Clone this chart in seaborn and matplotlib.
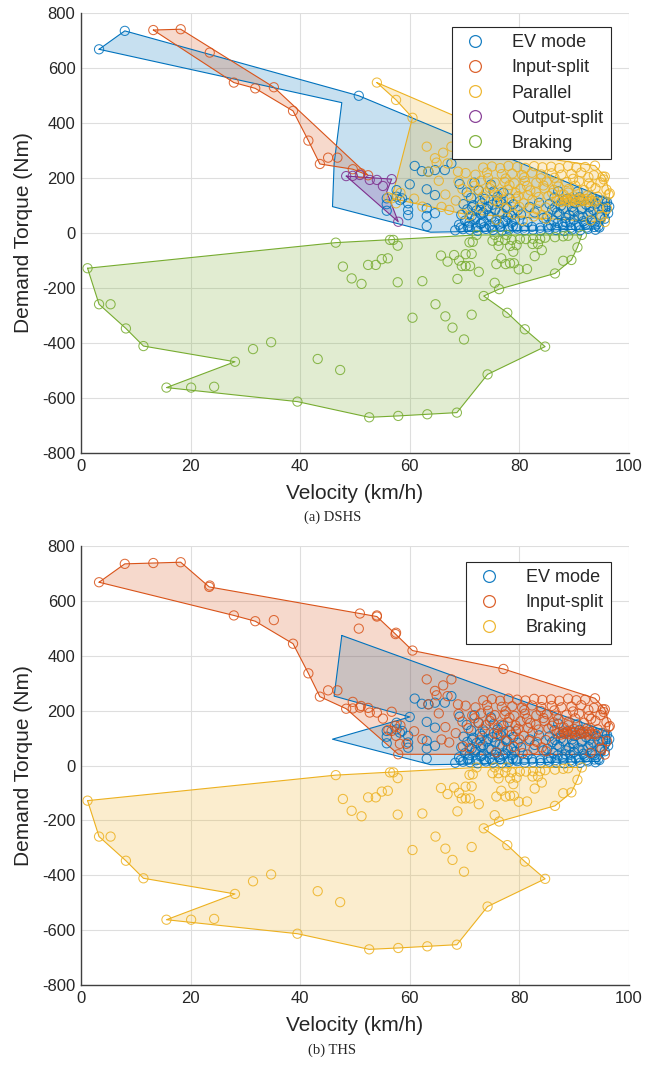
import numpy as np
import pandas as pd
import matplotlib
matplotlib.use("Agg")
import matplotlib.pyplot as plt
import seaborn as sns
from matplotlib.lines import Line2D

sns.set_theme(style="white")
plt.rcParams["font.family"] = ["Liberation Sans", "DejaVu Sans"]
plt.rcParams["axes.unicode_minus"] = False

# ---------------- colours ----------------
C_BLUE = "#0072BD"
C_ORANGE = "#D95319"
C_YELLOW = "#EDB120"
C_PURPLE = "#7E2F8E"
C_GREEN = "#77AC30"

# ---------------- EV mode points (shared by both systems) ----------------
ev_v = [60.9, 62.2, 63.4, 64.6, 66.4, 67.6, 60.0, 63.1, 57.6, 64.6, 58.2, 59.7, 55.8, 55.8, 55.8,
        58.6, 59.7, 59.7, 63.1, 64.6, 63.1, 63.1, 57.6,
        68.3, 69.7, 71.0, 72.4, 73.9, 75.2, 76.8, 78.1, 79.6, 81.0, 82.5, 83.9, 85.4, 86.7, 88.2, 89.6, 91.1, 92.5, 93.9,
        69.0, 70.8, 72.9, 74.6, 76.3, 78.8, 85.8, 87.9, 90.3, 92.1, 94.4,
        70.1, 71.9, 73.5, 75.8, 77.4, 79.2, 86.2, 88.4, 89.9, 91.7, 93.2, 95.6,
        69.4, 71.3, 73.0, 74.4, 76.9, 78.5, 80.3, 85.1, 87.3, 89.1, 90.8, 92.6, 94.7, 96.2,
        70.5, 72.2, 74.0, 75.6, 77.8, 79.7, 86.0, 88.0, 89.8, 91.4, 93.5, 95.3,
        69.8, 71.6, 73.2, 75.1, 76.6, 78.9, 85.5, 87.6, 90.1, 92.2, 94.0, 96.0,
        71.2, 73.7, 76.0, 78.2, 86.4, 88.8, 91.0, 93.3,
        70.4, 72.6, 75.3, 77.1, 87.1, 90.6,
        69.1, 71.8, 74.8,
        81.5, 82.8, 83.6, 81.9, 84.4, 95.1, 96.4, 94.6,
        72.0, 73.4, 74.9, 76.4, 77.9, 86.9, 88.5, 90.0, 91.6, 93.0, 94.8,
        71.4, 72.8, 74.3, 75.9, 77.5, 86.5, 88.1, 89.6, 91.2, 92.8, 94.3, 95.8,
        70.9, 73.1, 75.5, 77.0, 78.6, 87.0, 89.3, 91.9, 93.8,
        69.3, 70.6, 72.1, 73.6, 75.0, 76.5, 78.0, 79.4, 80.9, 82.3, 83.8, 85.2, 86.6, 88.0, 89.4, 90.9, 92.3, 93.7]
ev_t = [244, 225, 223, 229, 229, 253, 177, 159, 156, 138, 120, 108, 126, 105, 81,
        126, 84, 65, 90, 72, 62, 25, 132,
        10, 14, 12, 8, 15, 11, 9, 13, 16, 10, 12, 9, 14, 11, 8, 13, 10, 15, 12,
        30, 26, 33, 27, 31, 25, 28, 32, 26, 30, 24,
        45, 48, 42, 47, 44, 50, 46, 41, 49, 43, 47, 52,
        66, 62, 68, 64, 70, 63, 67, 61, 69, 65, 63, 68, 66, 72,
        86, 82, 88, 84, 90, 83, 85, 89, 81, 87, 84, 92,
        105, 101, 108, 103, 110, 104, 106, 100, 108, 103, 107, 112,
        128, 124, 131, 126, 129, 125, 130, 127,
        148, 155, 151, 146, 152, 150,
        178, 183, 176,
        40, 75, 110, 95, 55, 118, 96, 20,
        56, 74, 58, 76, 57, 75, 55, 77, 58, 76, 57,
        94, 116, 96, 115, 95, 93, 117, 95, 116, 94, 118, 96,
        38, 36, 39, 37, 38, 37, 39, 36, 38,
        20, 22, 19, 21, 20, 22, 19, 21, 20, 22, 19, 21, 20, 22, 19, 21, 20, 22]
# boundary points of EV mode
ev_bv = [3.3, 8.0, 50.7, 96.5, 96.5, 94.5, 70.0, 63.8, 45.9, 46.2, 47.6]
ev_bt = [668, 735, 499, 120, 75, 15, 5, 3, 96, 253, 474]
# EV points of DSHS that belong to input-split in THS
ev_extra_v = [3.3, 8.0, 50.7]
ev_extra_t = [668, 735, 499]
# THS EV boundary
ev2_bv = [47.6, 96.5, 96.5, 94.5, 70.0, 63.8, 45.9, 60.0, 46.2]
ev2_bt = [474, 120, 75, 15, 5, 3, 96, 177, 253]

# ---------------- Input-split (DSHS) ----------------
is_v = [13.2, 18.2, 23.5, 27.9, 31.8, 35.2, 38.7, 41.5, 43.6, 45.1, 46.8, 49.6, 51.1, 52.4]
is_t = [738, 741, 656, 547, 526, 530, 444, 336, 251, 274, 274, 232, 217, 210]
is_bv = [13.2, 18.2, 35.2, 52.4, 49.6, 43.6, 41.5, 38.7, 31.8, 27.9]
is_bt = [738, 741, 530, 210, 232, 251, 336, 444, 526, 547]

# ---------------- Parallel (DSHS) ----------------
par_v = [54.0, 57.5, 60.5, 56.7, 69.7, 95.6, 96.5, 95.6, 93.8,
         63.1, 64.6, 66.1, 67.6, 64.9, 68.8, 66.9, 63.4, 56.1, 57.5, 58.3, 60.8, 62.3, 65.8, 67.2, 66.5, 65.3, 68.4,
         73.4, 75.0, 76.5, 78.0, 79.6, 81.1, 82.7, 84.2, 85.8, 87.3, 88.9, 90.4, 92.0,
         70.2, 72.0, 74.1, 76.8, 78.7, 80.5, 82.3, 84.0, 85.9, 87.7, 89.5, 91.3, 93.6, 95.2,
         68.9, 71.4, 73.0, 75.5, 77.3, 79.1, 81.0, 83.1, 85.0, 86.8, 88.6, 90.9, 92.7, 94.8,
         69.6, 72.5, 74.6, 77.9, 80.2, 82.0, 84.6, 86.3, 89.0, 91.8, 93.9, 95.9,
         70.7, 73.3, 76.1, 79.8, 81.6, 83.5, 85.3, 88.1, 90.0, 92.4, 94.3, 96.3,
         86.9, 87.6, 88.3, 89.0, 89.7, 90.4, 91.1, 91.8, 92.5, 93.2, 93.9,
         87.3, 88.0, 88.7, 89.4, 90.1, 90.8, 91.5, 92.2, 92.9,
         75.4, 76.2, 77.0, 78.6, 79.4, 80.8, 82.4,
         72.8, 77.6, 80.0, 81.8, 83.2, 84.8, 94.6, 96.0,
         70.9, 79.0, 82.6, 84.1, 95.0,
         75.8, 80.6, 84.9, 93.0,
         74.3, 77.5, 80.9, 83.9, 86.4, 89.8, 92.6, 95.4,
         71.8, 74.9, 78.2, 81.4, 84.4, 87.1, 90.2, 93.1,
         73.9, 76.7, 79.3, 83.0, 86.0, 88.9]
par_t = [547, 484, 419, 126, 70, 40, 144, 205, 245,
         314, 272, 292, 314, 256, 223, 253, 223, 130, 108, 146, 125, 96, 95, 84, 140, 190, 118,
         238, 242, 236, 244, 240, 237, 243, 239, 241, 236, 244, 238, 240,
         218, 212, 220, 214, 216, 211, 219, 213, 217, 212, 215, 220, 210, 205,
         188, 182, 190, 184, 186, 181, 189, 183, 187, 182, 185, 189, 180, 184,
         160, 156, 163, 158, 161, 155, 162, 157, 160, 156, 163, 158,
         136, 132, 138, 134, 137, 131, 135, 139, 133, 136, 132, 140,
         117, 113, 116, 114, 118, 112, 115, 117, 113, 116, 114,
         122, 124, 121, 123, 122, 125, 121, 123, 122,
         118, 110, 122, 112, 125, 108, 120,
         92, 88, 95, 90, 86, 93, 91, 89,
         63, 68, 60, 66, 62,
         48, 45, 52, 46,
         200, 198, 202, 199, 201, 197, 203, 195,
         172, 170, 174, 171, 173, 169, 172, 170,
         147, 149, 146, 148, 145, 147]
par_bv = [54.0, 87.0, 93.8, 95.6, 96.5, 95.6, 69.7, 56.7, 60.5, 57.5]
par_bt = [547, 265, 245, 205, 144, 40, 70, 126, 419, 484]

# ---------------- Output-split (DSHS) ----------------
os_v = [48.4, 50.9, 52.7, 54.0, 55.1, 56.7, 57.9, 49.6]
os_t = [207, 211, 193, 193, 171, 196, 41, 208]
os_bv = [48.4, 56.7, 55.8, 57.9]
os_bt = [207, 196, 150, 41]

# ---------------- Braking (shared) ----------------
br_v = [1.2, 46.5, 72.2, 91.4, 90.6, 89.5, 86.5, 76.3, 73.5, 77.8, 81.0, 84.7, 74.2, 68.6, 63.2, 57.9,
        52.6, 39.5, 15.6, 28.1, 11.4, 8.2, 3.3,
        5.4, 20.1, 24.3, 31.4, 34.7, 43.2, 47.3, 47.8, 49.4, 51.2, 52.4, 53.8, 54.9, 56.0, 56.4, 57.0, 57.8,
        57.8, 62.3, 60.5, 64.7, 66.5, 67.8, 69.9, 71.3, 68.7, 65.7, 66.9, 68.1, 69.0, 70.2, 71.3,
        69.5, 70.2, 71.0, 72.6, 70.9, 71.5, 75.5, 77.7, 75.1, 76.2, 77.4, 78.6, 80.1, 81.2, 82.5, 83.8,
        84.7, 86.5, 88.0, 88.9, 76.2, 78.3, 79.5, 78.9, 82.4, 83.4, 84.1, 82.8, 75.8, 76.7, 77.5, 78.3,
        79.0, 79.9, 81.4, 75.5, 88.0]
br_t = [-128, -35, -7, -7, -52, -98, -147, -204, -229, -290, -350, -413, -514, -653, -659, -665,
        -670, -613, -562, -468, -411, -347, -259,
        -259, -562, -559, -422, -397, -458, -498, -122, -165, -185, -116, -116, -95, -92, -25, -25, -46,
        -179, -175, -308, -259, -303, -344, -387, -297, -167, -82, -104, -80, -100, -77, -76,
        -120, -120, -120, -141, -34, -32, -7, -7, -28, -28, -25, -25, -22, -22, -21, -21,
        -17, -15, -12, -10, -47, -47, -44, -68, -40, -40, -62, -84, -113, -92, -113, -110,
        -110, -132, -131, -181, -101]
br_bv = [1.2, 46.5, 72.2, 91.4, 90.6, 89.5, 86.5, 76.3, 73.5, 77.8, 81.0, 84.7, 74.2, 68.6, 63.2,
         57.9, 52.6, 39.5, 15.6, 28.1, 11.4, 8.2, 3.3]
br_bt = [-128, -35, -7, -7, -52, -98, -147, -204, -229, -290, -350, -413, -514, -653, -659,
         -665, -670, -613, -562, -468, -411, -347, -259]

# ---------------- THS input-split: union of DSHS power-split / parallel points ----------------
ths_is_v = is_v + par_v + os_v + ev_extra_v + [23.4, 50.9, 54.0, 57.4, 77.1, 58.2, 59.4, 57.3]
ths_is_t = is_t + par_t + os_t + ev_extra_t + [651, 554, 543, 479, 352, 79, 79, 145]
ths_is_bv = [3.3, 8.0, 13.2, 18.2, 23.4, 50.9, 54.0, 57.4, 60.5, 77.1, 93.8, 95.6, 96.5, 95.6,
             57.9, 48.4, 43.6, 41.5, 38.7, 31.8, 27.9]
ths_is_bt = [668, 735, 738, 741, 651, 554, 543, 479, 419, 352, 245, 205, 144, 40,
             41, 207, 251, 336, 444, 526, 547]

x_ticks = [0, 20, 40, 60, 80, 100]
y_ticks = [-800, -600, -400, -200, 0, 200, 400, 600, 800]


def draw_mode(ax, pv, pt, bv, bt, col):
    ax.fill(bv, bt, facecolor=col, alpha=0.22, edgecolor="none", zorder=1)
    ax.plot(list(bv) + [bv[0]], list(bt) + [bt[0]], color=col, lw=0.8, zorder=2)
    sns.scatterplot(x=pv, y=pt, ax=ax, marker="o", s=44, facecolor="none",
                    edgecolor=col, linewidth=0.75, alpha=0.85, zorder=3, legend=False)


def style_axes(ax, caption, cap_y, fig):
    ax.set_xlim(0, 100)
    ax.set_ylim(-800, 800)
    ax.set_xticks(x_ticks)
    ax.set_yticks(y_ticks)
    ax.grid(True, color="#DEDEDE", lw=0.8)
    ax.set_axisbelow(True)
    for s in ["top", "right"]:
        ax.spines[s].set_visible(False)
    for s in ["left", "bottom"]:
        ax.spines[s].set_color("#404040")
        ax.spines[s].set_linewidth(1.0)
    ax.tick_params(direction="in", length=4, width=0.8, color="#404040",
                   labelsize=12, labelcolor="#262626", pad=4)
    ax.set_xlabel("Velocity (km/h)", fontsize=15, color="#262626")
    ax.set_ylabel("Demand Torque (Nm)", fontsize=15, color="#262626")
    ax.xaxis.set_label_coords(0.5, -0.07)
    ax.yaxis.set_label_coords(-0.088, 0.5)
    fig.text(0.503, cap_y, caption, ha="center", va="center",
             fontsize=10.5, family=["Liberation Serif", "DejaVu Serif"])


def add_legend(ax, names, cols, bbox):
    handles = [Line2D([], [], marker="o", ls="", mfc="none", mec=c, ms=8.5, mew=0.9, alpha=0.9)
               for c in cols]
    leg = ax.legend(handles, names, loc="upper right", bbox_to_anchor=bbox, fontsize=13,
                    frameon=True, fancybox=False, framealpha=1, edgecolor="#262626",
                    handlelength=1.8, handletextpad=1.1, borderpad=0.4, labelspacing=0.45,
                    borderaxespad=0)
    leg.get_frame().set_linewidth(0.8)
    leg.set_zorder(10)


fig = plt.figure(figsize=(6.61, 10.65), dpi=100)
ax1 = fig.add_axes([0.1225, 0.5746, 0.829, 0.4132])
ax2 = fig.add_axes([0.1225, 0.0751, 0.829, 0.4122])

# (a) DSHS
draw_mode(ax1, ev_v + ev_extra_v, ev_t + ev_extra_t, ev_bv, ev_bt, C_BLUE)
draw_mode(ax1, is_v, is_t, is_bv, is_bt, C_ORANGE)
draw_mode(ax1, par_v, par_t, par_bv, par_bt, C_YELLOW)
draw_mode(ax1, os_v, os_t, os_bv, os_bt, C_PURPLE)
draw_mode(ax1, br_v, br_t, br_bv, br_bt, C_GREEN)
style_axes(ax1, "(a) DSHS", 0.5146, fig)
add_legend(ax1, ["EV mode", "Input-split", "Parallel", "Output-split", "Braking"],
           [C_BLUE, C_ORANGE, C_YELLOW, C_PURPLE, C_GREEN], (0.967, 0.968))

# (b) THS
draw_mode(ax2, ev_v, ev_t, ev2_bv, ev2_bt, C_BLUE)
draw_mode(ax2, ths_is_v, ths_is_t, ths_is_bv, ths_is_bt, C_ORANGE)
draw_mode(ax2, br_v, br_t, br_bv, br_bt, C_YELLOW)
style_axes(ax2, "(b) THS", 0.0141, fig)
add_legend(ax2, ["EV mode", "Input-split", "Braking"],
           [C_BLUE, C_ORANGE, C_YELLOW], (0.967, 0.964))

fig.savefig("out.png", dpi=100)
